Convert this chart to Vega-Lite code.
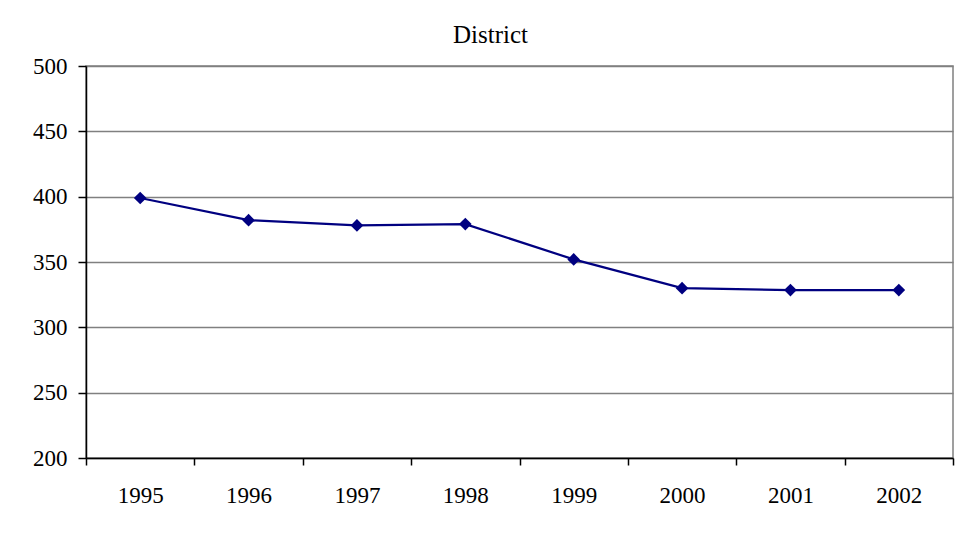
{
  "$schema": "https://vega.github.io/schema/vega-lite/v6.json",
  "autosize": "none",
  "width": 867,
  "height": 392,
  "padding": {"left": 86, "top": 66, "right": 18, "bottom": 81},
  "background": "white",
  "title": {"text": "District", "font": "Liberation Serif", "fontSize": 25, "fontWeight": "normal", "color": "black", "anchor": "middle", "offset": 7, "dx": -29},
  "config": {
    "view": {"stroke": "#808080", "strokeWidth": 1.5},
    "axis": {"labelFont": "Liberation Serif", "labelFontSize": 23, "labelColor": "black", "domainColor": "black", "tickColor": "black", "titleFont": "Liberation Serif"}
  },
  "data": {"values": [
    {"year": "1995", "value": 399},
    {"year": "1996", "value": 382},
    {"year": "1997", "value": 378},
    {"year": "1998", "value": 379},
    {"year": "1999", "value": 352},
    {"year": "2000", "value": 330},
    {"year": "2001", "value": 328.5},
    {"year": "2002", "value": 328.5}
  ]},
  "encoding": {
    "x": {"field": "year", "type": "ordinal", "scale": {"type": "band", "paddingInner": 0, "paddingOuter": 0},
      "axis": {"title": null, "labelAngle": 0, "tickBand": "extent", "tickSize": 7, "labelPadding": 19, "grid": false, "domainWidth": 1.5, "tickWidth": 1.5}},
    "y": {"field": "value", "type": "quantitative", "scale": {"domain": [200, 500], "nice": false, "zero": false},
      "axis": {"title": null, "values": [200, 250, 300, 350, 400, 450, 500], "tickSize": 8, "labelPadding": 11, "gridColor": "#808080", "gridWidth": 1.5, "gridOpacity": 1, "domainWidth": 1.5, "tickWidth": 1.5}}
  },
  "layer": [
    {"mark": {"type": "line", "color": "#000080", "strokeWidth": 2.2}},
    {"mark": {"type": "point", "shape": "diamond", "filled": true, "color": "#000080", "size": 160, "opacity": 1}}
  ]
}
